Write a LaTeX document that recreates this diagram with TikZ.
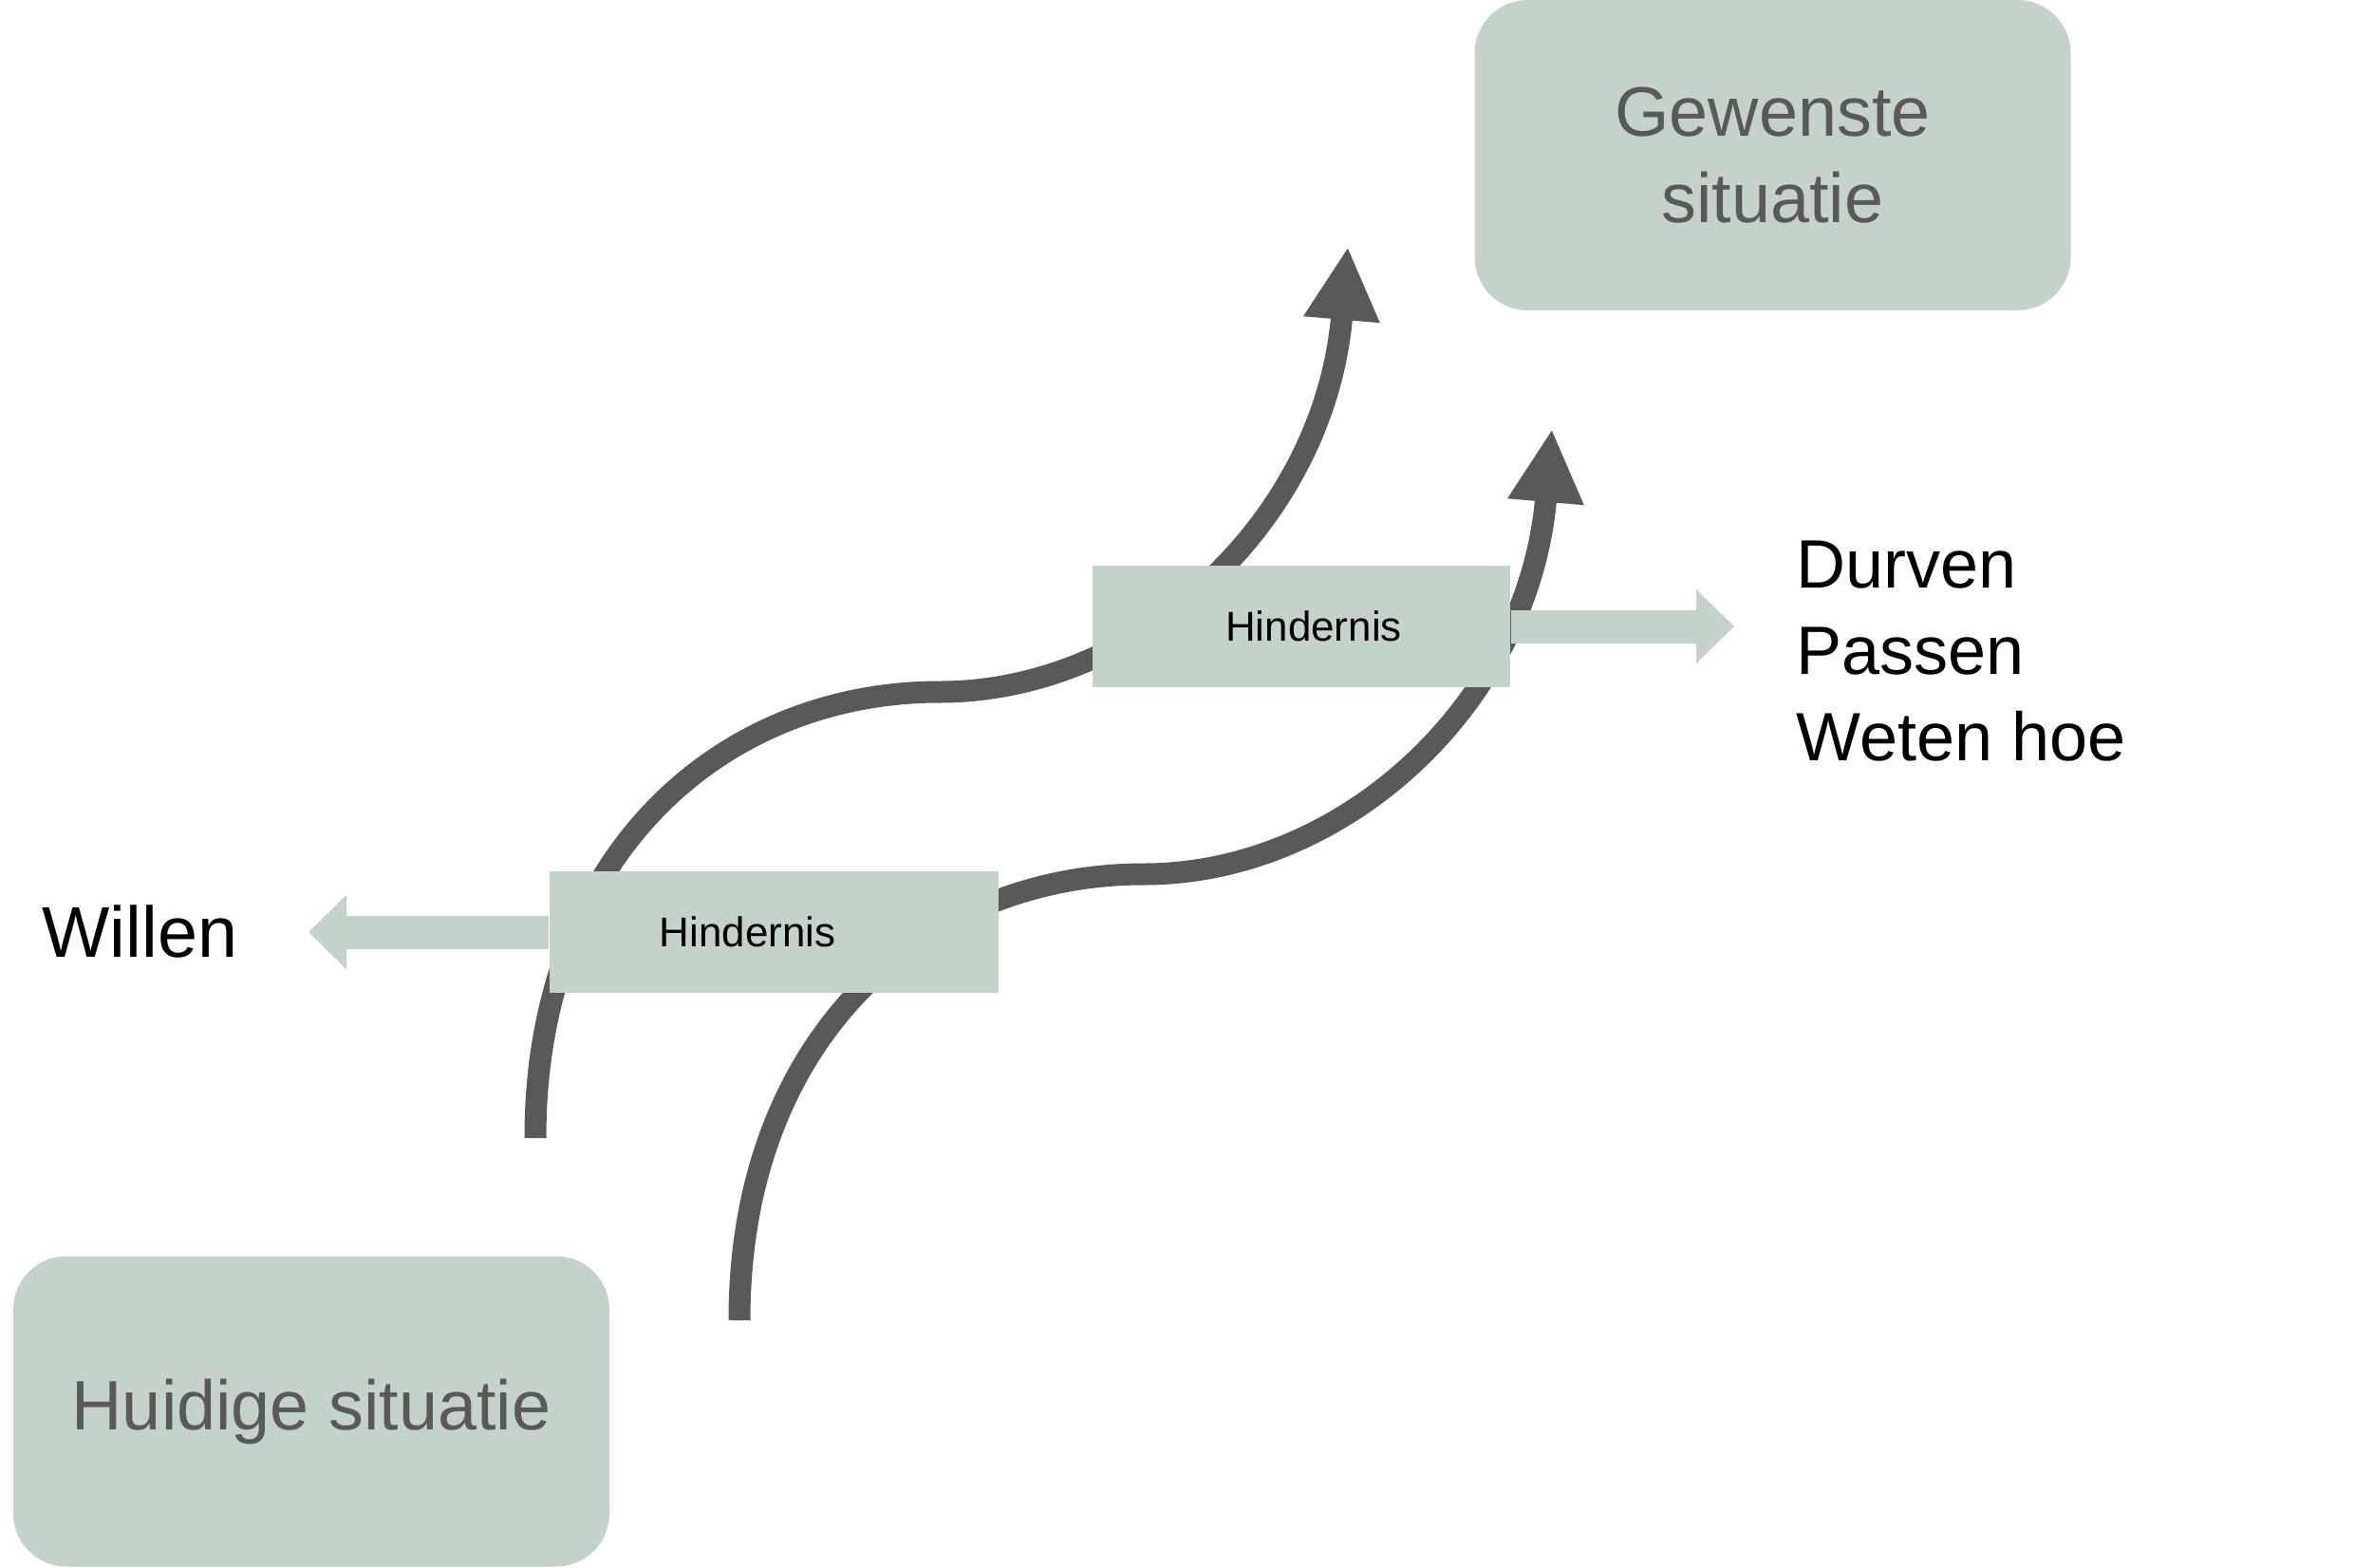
\documentclass[tikz,border=0pt]{standalone}
\usepackage{fontspec}
\setmainfont{Liberation Sans}
\usetikzlibrary{arrows.meta,positioning}
\definecolor{sage}{RGB}{196,211,202}
\definecolor{darkgrey}{RGB}{89,89,89}

\begin{document}
\begin{tikzpicture}[situation/.style={fill=sage,rounded corners=5.6mm,minimum width=6.28cm,minimum height=3.27cm,align=center,text=darkgrey,font=\fontsize{21}{26}\selectfont},
obstacle/.style={fill=sage,minimum height=1.28cm,label={[font=\fontsize{12.5}{15}\selectfont,xshift=#1]center:Hindernis}},
route/.style={draw=darkgrey,line width=2.3mm,-{Triangle[length=7.7mm,width=7.5mm]}},
push/.style={draw=sage,line width=3.5mm,-{Triangle[length=4mm,width=7.6mm]}},
factor/.style={anchor=west,align=left,font=\fontsize{20.5}{25.9}\selectfont}]

\useasboundingbox (0,0) rectangle (25,-16.51);

\foreach \dx/\dy/\name in {0/0/a,2.15/-1.92/b}{
  \begin{scope}[shift={(\dx,\dy)}]
    \coordinate (\name0) at (5.64,-11.99);
    \coordinate (\name1) at (9.90,-7.29);
    \coordinate (\name2) at (14.20,-2.60);
    \draw[route] (\name0) .. controls +(0,2.99) and +(-2.3,0) .. (\name1)
                          .. controls +(2.1,0) and +(-0.25,-2.9) .. (\name2);
  \end{scope}
}

\node[situation] (gewenst) at (18.675,-1.635) {Gewenste\\situatie};
\node[situation] (huidig) at (3.28,-14.87) {\raisebox{-0.6mm}{Huidige situatie}};

\node[obstacle=-0.28cm,minimum width=4.73cm] (hind1) at (8.155,-9.82) {};
\node[obstacle=0.13cm,minimum width=4.40cm] (hind2) at (13.71,-6.60) {};

\node[anchor=west,font=\fontsize{21.5}{26}\selectfont] (willen) at (0.32,-9.81) {Willen};
\node[factor] (factors) at (18.80,-6.86) {Durven\\Passen\\Weten hoe};

\coordinate (wtip) at (3.25,-9.82);
\coordinate (ftip) at (18.27,-6.60);
\draw[push] (hind1) -- (wtip);
\draw[push] (hind2) -- (ftip);

\end{tikzpicture}
\end{document}
